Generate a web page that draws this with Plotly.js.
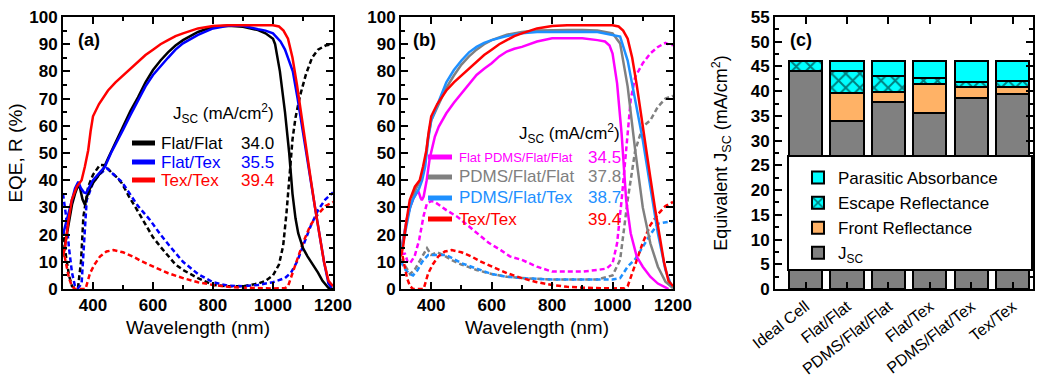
<!DOCTYPE html>
<html><head><meta charset="utf-8">
<script src="https://cdn.plot.ly/plotly-3.0.1.min.js"></script>
<style>html,body{margin:0;padding:0;background:#fff;} #chart{width:1037px;height:377px;}</style>
</head><body><div id="chart"></div>
<script>
// ---------- Panel (a) data ----------
var wlTexTexEQE = [300,307,318,329,346,362,373,384,392,400,420,450,475,500,525,550,575,600,625,650,675,700,750,800,850,900,950,1000,1020,1035,1050,1065,1080,1095,1110,1125,1140,1155,1170,1185,1200];
var eqeTexTex   = [12,15.6,25,32.7,37.6,40,45,51,58,63.5,68,73,76,78.5,81,83.5,86,88,90,91.5,93,94,95.8,96.7,97,97,97,97,96.5,95,92,85,75,63,52,41,30,20,10,3,1];
var wlFlatFlatEQE = [300,310,320,330,340,350,357,365,373,380,390,400,420,434,450,475,500,525,550,575,600,625,650,675,700,750,800,850,900,950,975,1000,1007,1023,1040,1054,1065,1075,1084,1100,1115,1134,1150,1165,1184,1200];
var eqeFlatFlat   = [12,18,25,31,35,38,37,33,31,34,37,39,42,44,48,54,60,65.5,70.5,76,80.5,84,87,89.5,91.5,94.5,96.4,96.8,96.4,95.2,94,92,90,80,65,50,35,26,20.5,15,12,9,6,3,0.5,0];
var wlFlatTexEQE = [300,310,320,330,340,351,360,370,377,390,400,420,440,460,480,500,525,550,575,600,625,650,675,700,750,800,850,900,950,975,1000,1025,1040,1050,1066,1082,1096,1110,1125,1140,1155,1170,1185,1195];
var eqeFlatTex   = [20,24,29,33,37,39.4,37,35.5,35.2,38,40,42.5,45,50,54,58.5,64,69.5,74.5,78.7,82,85,88,90.3,93.4,95.8,96.8,96.8,95.5,95,94,91,88,85,80,70,60,50,40,30,20,10,2,0.5];
var wlFlatFlatR = [300,310,320,330,340,350,360,368,384,400,423,440,460,480,496,520,550,579,600,625,651,675,700,750,800,850,900,950,975,1000,1020,1034,1045,1055,1065,1075,1090,1110,1130,1150,1175,1200];
var rFlatFlat   = [22,12,5,1,0.3,0.5,10,26.6,37.6,42,45.6,45.5,43,41,38.9,34,28.5,22.9,19,15.5,11.9,9,7,4,1.5,1,1,2,3,5,9,16,28,42,55,63,71,79,85,88,89.5,90];
var wlFlatTexR = [300,310,320,330,340,350,362,370,379,400,420,446,470,496,518,550,590,625,657,700,750,800,850,900,950,1000,1040,1060,1080,1100,1125,1150,1175,1200];
var rFlatTex   = [35,27,15,6,1,0.3,2,18,32.7,39,42,44.4,42,39.4,35.8,30.5,25.4,20,15.6,10,5.5,2.5,1.2,1,1.5,2.5,4,6,10,16,23,29,33,35.5];
var wlTexTexR = [300,310,320,330,340,360,375,390,405,423,445,468,500,534,560,590,620,651,700,750,800,850,900,950,1000,1040,1050,1075,1100,1125,1150,1175,1200];
var rTexTex   = [15,9,4,1,0,0,0,5.8,9,11.9,13.8,14.3,13.5,11.9,10.3,8.8,7.3,5.8,4,2.5,1.5,0.8,0.5,0.3,0.2,0.3,1,9,17,23.5,27.5,30.5,32];

// ---------- Panel (b) data ----------
var wlFPFFEQE = [300,310,320,330,340,350,358,365,369,375,385,395,402,412,425,450,475,500,525,550,575,600,625,650,675,700,750,800,850,900,950,975,990,1000,1015,1030,1045,1060,1080,1100,1125,1150,1175,1185];
var eqeFPFF   = [14,20,26,30,33,35,35.8,33.5,32.7,34,40,48,51,56,59.7,64.6,68.5,72,75.5,78.7,81,83,85.5,87.3,88.3,89,91,92.2,92.2,92.2,91.5,91,89.5,86.6,75.6,57,32.7,20.5,11.9,8.2,4.5,2,0.6,0];
var wlFPFFR = [300,313,322,330,345,360,375,386,400,410,425,450,486,520,552,590,630,660,700,750,800,850,900,950,980,1000,1015,1030,1040,1050,1060,1075,1100,1125,1150,1175,1190,1200];
var rFPFF   = [13,13,10,9.5,12,18,27,31.5,32.3,32.1,31,29,26.6,23.5,20.5,17,14.3,12,10.7,8.2,6.4,6.4,6.4,7,7.5,9.4,16.8,32.7,45,57,69.5,78,83,86.6,89,90.5,89.7,89.7];
var wlPFFEQE = [300,310,320,330,340,350,360,370,380,390,400,425,450,475,500,525,550,575,600,650,700,750,800,850,900,950,1000,1025,1050,1075,1100,1125,1150,1175,1200];
var eqePFF   = [14,20,26,30,34,37,39,42,47,56,62,68,74,78.5,82.5,85.5,88,90,91.5,93.5,94.5,95,95.2,95.2,95.2,95,94,90.3,74.4,51,30,16.8,8.2,2.7,0.3];
var wlPFTEQE = [300,310,320,330,340,350,360,370,380,390,400,425,450,475,500,525,550,575,600,650,700,750,800,850,900,950,1000,1025,1050,1075,1100,1125,1150,1175,1195];
var eqePFT   = [13,19,25,30,33,35,37,40,45,55,62,69,76,80.5,84,87,89,90.5,91.5,93,94,94.5,94.6,94.6,94.6,94.5,93.5,92.8,84,69.5,54.8,37.6,20.5,7,1];
var wlPFFR = [300,315,330,345,360,375,386,400,420,440,470,500,550,600,650,700,800,900,950,1000,1025,1050,1075,1100,1125,1150,1175,1200];
var rPFF   = [11,8,5.5,7,10,13,15,12.5,13.5,12.5,10.5,9,7,5.5,4.5,4,3.5,3.5,3.5,5,10.7,32.7,51,59.7,62,67,70,71];
var wlPFTR = [300,315,330,340,355,370,390,420,450,475,500,550,600,650,700,800,900,1000,1025,1050,1075,1100,1125,1150,1175,1200];
var rPFT   = [10,7,5.5,5,7,10,12.5,12.5,12.5,11,9.5,7.5,5.5,4.5,4,3.5,3.5,3.5,4,8.2,11,15.6,20,24,24.5,25];

// ---------- Panel (c) data ----------
var cells     = ['Ideal Cell','Flat/Flat','PDMS/Flat/Flat','Flat/Tex','PDMS/Flat/Tex','Tex/Tex'];
var jscVals   = [44.0, 34.0, 37.8, 35.5, 38.7, 39.4];
var frontVals = [0, 5.6, 2.1, 5.9, 2.2, 1.4];
var escVals   = [2.2, 4.5, 3.1, 1.2, 0.9, 1.2];
var paraVals  = [0, 2.1, 3.2, 3.6, 4.4, 4.2];

// legend texts
var legendA = [['Flat/Flat','34.0','#000000'],['Flat/Tex','35.5','#0000FF'],['Tex/Tex','39.4','#FF0000']];
var legendB = [['Flat PDMS/Flat/Flat','34.5','#FF00FF'],['PDMS/Flat/Flat','37.8','#808080'],['PDMS/Flat/Tex','38.7','#1E90FF'],['Tex/Tex','39.4','#FF0000']];

var FONT = 'Liberation Sans, Arial, sans-serif';
var W = 1037, H = 377;
function px(x){return x/W;}
function py(y){return 1-y/H;}

function line(x,y,color,dash,xa,ya){
  return {x:x,y:y,xaxis:xa,yaxis:ya,type:'scatter',mode:'lines',showlegend:false,hoverinfo:'skip',
    line:{color:color,width:2.5,dash:dash?'5px,3px':'solid'}};
}
var traces = [
  line(wlFlatFlatR,rFlatFlat,'#000000',true,'x','y'),
  line(wlFlatTexR,rFlatTex,'#0000FF',true,'x','y'),
  line(wlTexTexR,rTexTex,'#FF0000',true,'x','y'),
  line(wlFlatFlatEQE,eqeFlatFlat,'#000000',false,'x','y'),
  line(wlFlatTexEQE,eqeFlatTex,'#0000FF',false,'x','y'),
  line(wlTexTexEQE,eqeTexTex,'#FF0000',false,'x','y'),

  line(wlFPFFR,rFPFF,'#FF00FF',true,'x2','y2'),
  line(wlPFFR,rPFF,'#808080',true,'x2','y2'),
  line(wlPFTR,rPFT,'#1E90FF',true,'x2','y2'),
  line(wlTexTexR,rTexTex,'#FF0000',true,'x2','y2'),
  line(wlFPFFEQE,eqeFPFF,'#FF00FF',false,'x2','y2'),
  line(wlPFFEQE,eqePFF,'#808080',false,'x2','y2'),
  line(wlPFTEQE,eqePFT,'#1E90FF',false,'x2','y2'),
  line(wlTexTexEQE,eqeTexTex,'#FF0000',false,'x2','y2')
];
function bar(vals,name,color,pattern){
  var m = {color:color,line:{color:'#000',width:2}};
  if(pattern) m.pattern = {shape:'x',fillmode:'overlay',fgcolor:'#000',size:10,solidity:0.35};
  return {type:'bar',x:cells,y:vals,name:name,xaxis:'x3',yaxis:'y3',marker:m,width:0.8,hoverinfo:'skip'};
}
traces.push(bar(jscVals,'J<sub>SC</sub>','#808080'));
traces.push(bar(frontVals,'Front Reflectance','#FFB266'));
traces.push(bar(escVals,'Escape Reflectance','#00FFFF',true));
traces.push(bar(paraVals,'Parasitic Absorbance','#00FFFF'));

var tickFont = {family:FONT,size:17,color:'#000',weight:'bold'};
function axBase(extra){
  var a = {showline:true,linecolor:'#000',linewidth:2,mirror:'ticks',ticks:'inside',ticklen:7,tickwidth:2,tickcolor:'#000',
    showgrid:false,zeroline:false,tickfont:tickFont,fixedrange:true};
  for(var k in extra) a[k]=extra[k];
  return a;
}
var yDom = [py(289), py(17)];
var layout = {
  width:W,height:H,margin:{l:0,r:0,t:0,b:0},paper_bgcolor:'#fff',plot_bgcolor:'rgba(0,0,0,0)',
  font:{family:FONT,color:'#000'},
  barmode:'stack',
  xaxis: axBase({domain:[px(63),px(333)],range:[300,1200],tick0:0,dtick:200,anchor:'y',
    minor:{dtick:100,ticklen:4,tickwidth:2,ticks:'inside',tickcolor:'#000'},
    title:{text:'Wavelength (nm)',font:{size:19},standoff:6}}),
  yaxis: axBase({domain:yDom,range:[0,100],dtick:10,anchor:'x',
    minor:{dtick:5,ticklen:4,tickwidth:2,ticks:'inside',tickcolor:'#000'},
    title:{text:'EQE, R (%)',font:{size:19},standoff:2}}),
  xaxis2: axBase({domain:[px(401),px(673)],range:[300,1200],tick0:0,dtick:200,anchor:'y2',
    minor:{dtick:100,ticklen:4,tickwidth:2,ticks:'inside',tickcolor:'#000'},
    title:{text:'Wavelength (nm)',font:{size:19},standoff:6}}),
  yaxis2: axBase({domain:yDom,range:[0,100],dtick:10,anchor:'x2',
    minor:{dtick:5,ticklen:4,tickwidth:2,ticks:'inside',tickcolor:'#000'}}),
  xaxis3: axBase({domain:[px(775),px(1033)],type:'category',range:[-0.74,5.49],anchor:'y3',tickangle:-38,
    tickfont:{family:FONT,size:16,color:'#000',weight:'normal'}}),
  yaxis3: axBase({domain:yDom,range:[0,55],dtick:5,anchor:'x3',
    minor:{dtick:2.5,ticklen:4,tickwidth:2,ticks:'inside',tickcolor:'#000'},
    title:{text:'Equivalent J<sub>SC</sub> (mA/cm<sup>2</sup>)',font:{size:18},standoff:18}}),
  showlegend:true,
  legend:{x:px(798),y:py(160),xanchor:'left',yanchor:'top',bgcolor:'rgba(0,0,0,0)',borderwidth:0,
    font:{family:FONT,size:17,color:'#000'},traceorder:'reversed',tracegroupgap:0},
  shapes:[],
  annotations:[]
};
// legend box for panel (c)
layout.shapes.push({type:'rect',xref:'paper',yref:'paper',x0:px(788),x1:px(1032),y0:py(270),y1:py(156),
  fillcolor:'#fff',line:{color:'#000',width:2},layer:'above'});

function ann(text,x,y,xanchor,size,color,bold){
  layout.annotations.push({text:text,xref:'paper',yref:'paper',x:px(x),y:py(y),xanchor:xanchor,yanchor:'middle',
    showarrow:false,font:{family:FONT,size:size,color:color||'#000',weight:bold?'bold':'normal'}});
}
ann('(a)',76,40,'left',18,'#000',true);
ann('(b)',411,40,'left',18,'#000',true);
ann('(c)',788,40,'left',18,'#000',true);

ann('J<sub>SC</sub> (mA/cm<sup>2</sup>)',276,114,'right',17,'#000');
var rowsA=[143,162,180];
legendA.forEach(function(r,i){
  layout.shapes.push({type:'line',xref:'paper',yref:'paper',x0:px(132),x1:px(155),y0:py(rowsA[i]),y1:py(rowsA[i]),line:{color:r[2],width:5}});
  ann(r[0],159,rowsA[i],'left',17,r[2]);
  ann(r[1],276,rowsA[i],'right',17,r[2]);
});
ann('J<sub>SC</sub> (mA/cm<sup>2</sup>)',622,133,'right',17,'#000');
var rowsB=[157,177,198,219];
legendB.forEach(function(r,i){
  layout.shapes.push({type:'line',xref:'paper',yref:'paper',x0:px(428),x1:px(452),y0:py(rowsB[i]),y1:py(rowsB[i]),line:{color:r[2],width:5}});
  ann(r[0],457,rowsB[i],'left',i===0?13:17,r[2]);
  ann(r[1],623,rowsB[i],'right',17,r[2]);
});

Plotly.newPlot('chart',traces,layout,{displayModeBar:false,staticPlot:true});
</script></body></html>
